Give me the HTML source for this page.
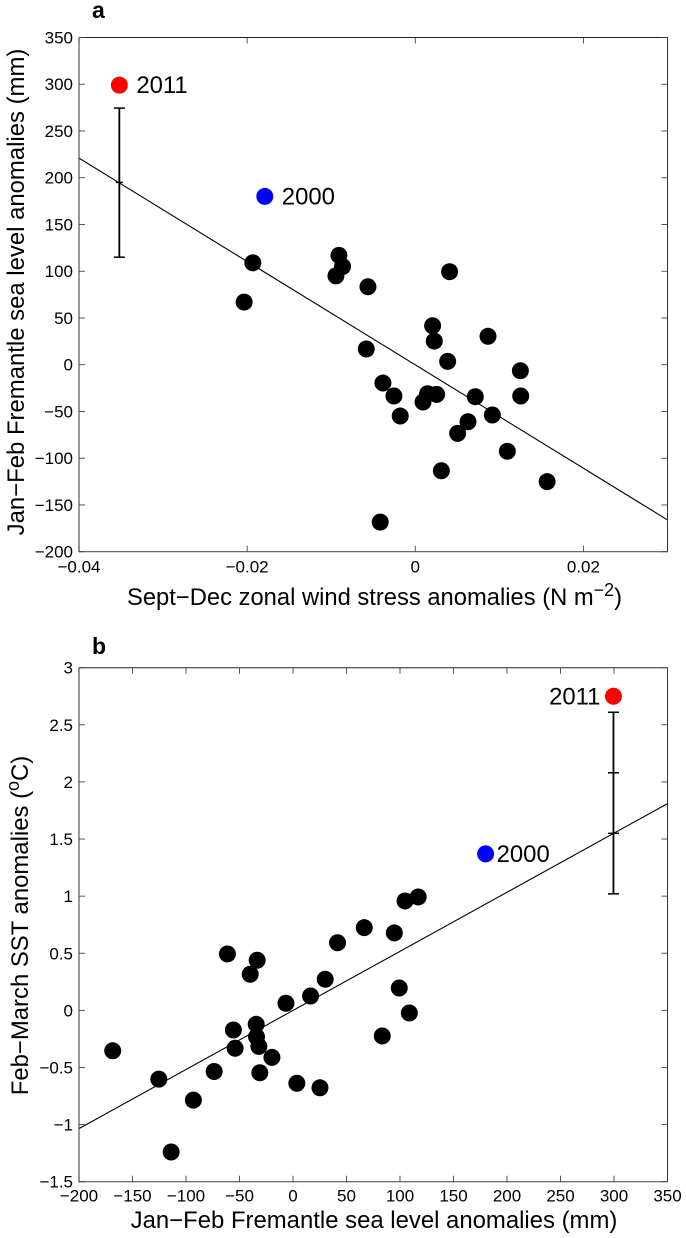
<!DOCTYPE html>
<html>
<head>
<meta charset="utf-8">
<style>
html,body{margin:0;padding:0;background:#fff;}
svg{display:block;font-family:"Liberation Sans",sans-serif;fill:#000;}
</style>
</head>
<body>
<svg id="fig" width="686" height="1238" viewBox="0 0 686 1238" xmlns="http://www.w3.org/2000/svg">
  <text x="92" y="18" font-size="23" font-weight="bold">a</text>
  <text x="92" y="654" font-size="23" font-weight="bold">b</text>

  <text x="127" y="605" font-size="23.9" textLength="495" lengthAdjust="spacingAndGlyphs">Sept−Dec zonal wind stress anomalies (N m<tspan dy="-9" font-size="18">−2</tspan><tspan dy="9">)</tspan></text>
  <text transform="translate(24,292) rotate(-90)" text-anchor="middle" font-size="23.9">Jan−Feb Fremantle sea level anomalies (mm)</text>
  <text x="374" y="1228" text-anchor="middle" font-size="23.9">Jan−Feb Fremantle sea level anomalies (mm)</text>
  <text transform="translate(28,925.5) rotate(-90)" text-anchor="middle" font-size="23.9">Feb−March SST anomalies (<tspan dy="-9" font-size="18">o</tspan><tspan dy="9">C)</tspan></text>

  <g id="panel-a"></g>
  <g id="panel-b"></g>
</svg>
<script>
// Panel a data
const aXTicks = [-0.04, -0.02, 0, 0.02];
const aXTickLabels = ['−0.04', '−0.02', '0', '0.02'];
const aYTicks = [350, 300, 250, 200, 150, 100, 50, 0, -50, -100, -150, -200];
const aYTickLabels = ['350', '300', '250', '200', '150', '100', '50', '0', '−50', '−100', '−150', '−200'];
const aWind = [-0.01932, -0.02036, -0.00908, -0.00865, -0.00944, -0.00563, 0.00408, 0.00206, 0.00226, 0.00865, -0.00583, 0.00385, 0.0125, 0.01254, -0.00385, -0.00254, 0.00146, 0.00254, 0.00092, 0.00714, 0.00917, -0.00179, 0.00627, 0.00504, 0.01095, 0.0031, 0.01568, -0.00417];
const aSeaLevel = [109, 67, 117, 105, 95, 83.4, 99.5, 41.7, 25.3, 30.4, 16.8, 3.6, -6.4, -33.5, -19.6, -33.5, -31, -31.7, -39.9, -34.2, -53.8, -54.9, -61, -73.4, -92.6, -113.4, -125.1, -168.3];
const aHighlightX = [-0.0352, -0.0179];
const aHighlightY = [299, 180];
const aFitX = [-0.04, 0.03];
const aFitY = [221, -166];
const aErrX = -0.0352;
const aErrY = [115, 195, 274.5];

// Panel b data
const bXTicks = [-200, -150, -100, -50, 0, 50, 100, 150, 200, 250, 300, 350];
const bXTickLabels = ['−200', '−150', '−100', '−50', '0', '50', '100', '150', '200', '250', '300', '350'];
const bYTicks = [3, 2.5, 2, 1.5, 1, 0.5, 0, -0.5, -1, -1.5];
const bYTickLabels = ['3', '2.5', '2', '1.5', '1', '0.5', '0', '−0.5', '−1', '−1.5'];
const bSeaLevel = [-168.5, -125.4, -113.9, -93.1, -73.7, -61.3, -55.7, -54.1, -40, -33.5, -34.4, -34.1, -31.9, -31, -19.7, -6.6, 3.6, 16.4, 25.2, 30.1, 41.6, 66.6, 83.4, 94.7, 99.3, 108.7, 104.7, 117];
const bSST = [-0.354, -0.602, -1.24, -0.786, -0.535, 0.494, -0.172, -0.332, 0.316, 0.439, -0.122, -0.231, -0.315, -0.546, -0.412, 0.062, -0.638, 0.126, -0.678, 0.272, 0.592, 0.724, -0.224, 0.678, 0.196, -0.023, 0.958, 0.993];
const bHighlightX = [299.5, 180];
const bHighlightY = [2.75, 1.37];
const bFitX = [-200, 350];
const bFitY = [-1.035, 1.81];
const bErrX = 299.5;
const bErrY = [1.02, 1.55, 2.08, 2.61];

const yearLabels = ['2011', '2000'];
const highlightColors = ['#ff0000', '#0000ff'];

const NS = 'http://www.w3.org/2000/svg';
function mk(parent, tag, attrs, text) {
  const el = document.createElementNS(NS, tag);
  for (const k in attrs) el.setAttribute(k, attrs[k]);
  if (text !== undefined) el.textContent = text;
  parent.appendChild(el);
  return el;
}

function scale(d0, d1, p0, p1) {
  return v => p0 + (v - d0) * (p1 - p0) / (d1 - d0);
}

function drawPanel(o) {
  const g = document.getElementById(o.id);
  const L = 79, R = 667.5, T = o.top, B = o.bottom;
  const x = scale(o.xDom[0], o.xDom[1], L, R);
  const y = scale(o.yDom[0], o.yDom[1], B, T);

  // fit line
  const fit = mk(g, 'line', {x1: x(o.fitX[0]), y1: y(o.fitY[0]), x2: x(o.fitX[1]), y2: y(o.fitY[1]), stroke: '#000', 'stroke-width': 1.1});
  
  

  // error bar
  const ex = x(o.errX);
  const bar = mk(g, 'line', {x1: ex, y1: y(o.errY[0]), x2: ex, y2: y(o.errY[o.errY.length - 1]), stroke: '#000', 'stroke-width': 1.8});
  
  
  o.errY.forEach((v, i) => {
    const inner = i > 0 && i < o.errY.length - 1;
    const cap = mk(g, 'line', {x1: ex - 5.5 + (o.id === 'panel-a' && inner ? 2 : 0), x2: ex + 5.5 - (o.id === 'panel-a' && inner ? 2 : 0), y1: y(v), y2: y(v), stroke: '#000', 'stroke-width': 1.5});
    
    
  });

  // points
  o.ptX.forEach((v, i) => {
    const c = mk(g, 'circle', {cx: x(v), cy: y(o.ptY[i]), r: 8.5, fill: '#000'});
    
    
  });
  o.hlX.forEach((v, i) => {
    const c = mk(g, 'circle', {cx: x(v), cy: y(o.hlY[i]), r: 8.5, fill: highlightColors[i]});
    
    
    const t = mk(g, 'text', {x: x(v) + o.lblDx[i], y: y(o.hlY[i]) + 8, 'font-size': 23.9, 'text-anchor': o.lblAnchor[i]}, yearLabels[i]);
    
    
  });

  // frame: top/right thin black, left/bottom grey
  const top = mk(g, 'line', {x1: L, x2: R + 0.5, y1: T, y2: T, stroke: '#222', 'stroke-width': 1});
  
  
  const right = mk(g, 'line', {x1: R, x2: R, y1: T, y2: B, stroke: '#333', 'stroke-width': 1});
  
  
  const left = mk(g, 'line', {x1: L, x2: L, y1: T, y2: B + 0.6, stroke: '#555', 'stroke-width': 1.2});
  
  
  const bottom = mk(g, 'line', {x1: L, x2: R + 0.5, y1: B, y2: B, stroke: '#555', 'stroke-width': 1.2});
  
  

  // x ticks
  o.xTicks.forEach((v, i) => {
    const px = x(v);
    const t1 = mk(g, 'line', {x1: px, x2: px, y1: B, y2: B - 6, stroke: '#444', 'stroke-width': 0.9});
    
    
    const t2 = mk(g, 'line', {x1: px, x2: px, y1: T, y2: T + 6, stroke: '#444', 'stroke-width': 0.9});
    
    
    const lb = mk(g, 'text', {x: px, y: B + o.xLabelDy, 'font-size': 17, 'text-anchor': 'middle'}, o.xTickLabels[i]);
    
    
  });

  // y ticks
  o.yTicks.forEach((v, i) => {
    const py = y(v);
    const t1 = mk(g, 'line', {x1: L, x2: L + 6, y1: py, y2: py, stroke: '#444', 'stroke-width': 0.9});
    
    
    const t2 = mk(g, 'line', {x1: R, x2: R - 6, y1: py, y2: py, stroke: '#444', 'stroke-width': 0.9});
    
    
    const lb = mk(g, 'text', {x: 73, y: py + 6, 'font-size': 17, 'text-anchor': 'end'}, o.yTickLabels[i]);
    
    
  });
}

drawPanel({
  id: 'panel-a', top: 37.5, bottom: 551.7,
  xDom: [-0.04, 0.03], yDom: [-200, 350],
  xTicks: aXTicks, xTickLabels: aXTickLabels, yTicks: aYTicks, yTickLabels: aYTickLabels,
  ptX: aWind, ptY: aSeaLevel, hlX: aHighlightX, hlY: aHighlightY,
  fitX: aFitX, fitY: aFitY, errX: aErrX, errY: aErrY,
  lblDx: [17, 17], lblAnchor: ['start', 'start'], xLabelDy: 21
});
drawPanel({
  id: 'panel-b', top: 667.7, bottom: 1181.7,
  xDom: [-200, 350], yDom: [-1.5, 3],
  xTicks: bXTicks, xTickLabels: bXTickLabels, yTicks: bYTicks, yTickLabels: bYTickLabels,
  ptX: bSeaLevel, ptY: bSST, hlX: bHighlightX, hlY: bHighlightY,
  fitX: bFitX, fitY: bFitY, errX: bErrX, errY: bErrY,
  lblDx: [-13, 11], lblAnchor: ['end', 'start'], xLabelDy: 20
});
</script>
</body>
</html>
